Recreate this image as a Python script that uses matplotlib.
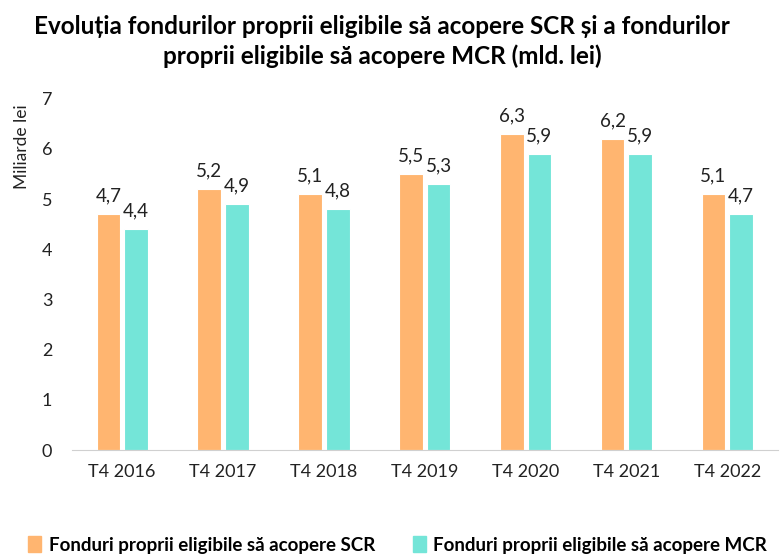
import numpy as np
import matplotlib.pyplot as plt
from matplotlib.patches import Patch

plt.rcParams['font.family'] = ['Lato', 'DejaVu Sans']

# date: fonduri proprii eligibile (mld. lei)
perioade = ['T4 2016', 'T4 2017', 'T4 2018', 'T4 2019', 'T4 2020', 'T4 2021', 'T4 2022']
scr = [4.7, 5.2, 5.1, 5.5, 6.3, 6.2, 5.1]
mcr = [4.4, 4.9, 4.8, 5.3, 5.9, 5.9, 4.7]

col_scr = '#FFB570'
col_mcr = '#74E5D8'

fig = plt.figure(figsize=(7.8, 5.55), dpi=100)
ax = fig.add_axes([0.092, 0.189, 0.905, 0.633])

x = np.arange(len(perioade))
w = 0.235
off = 0.137
b1 = ax.bar(x - off, scr, w, color=col_scr, edgecolor='white', linewidth=0.8)
b2 = ax.bar(x + off, mcr, w, color=col_mcr, edgecolor='white', linewidth=0.8)

def fmt(v):
    return f'{v:.1f}'.replace('.', ',')

for bars, vals in ((b1, scr), (b2, mcr)):
    for b, v in zip(bars, vals):
        ax.text(b.get_x() + b.get_width() / 2, v + 0.2, fmt(v),
                ha='center', va='bottom', fontsize=13.5, color='#222222')

ax.set_ylim(0, 7)
ax.set_xlim(-0.5, len(perioade) - 0.5)
ax.set_yticks(range(0, 8))
ax.set_xticks(x)
ax.set_xticklabels(perioade)
ax.tick_params(axis='both', length=0, labelsize=13, colors='#222222')
ax.tick_params(axis='x', pad=10)
ax.tick_params(axis='y', pad=14)
for s in ['top', 'right', 'left']:
    ax.spines[s].set_visible(False)
ax.spines['bottom'].set_color('#d0d0d0')

fig.text(0.028, 0.735, 'Miliarde lei', rotation=90, ha='center', va='center',
         fontsize=12.5, color='#222222')

fig.text(0.49, 0.925, 'Evoluția fondurilor proprii eligibile să acopere SCR și a fondurilor\n'
         'proprii eligibile să acopere MCR (mld. lei)',
         ha='center', va='center', fontsize=17.5, fontweight='bold', linespacing=1.3)

handles = [Patch(color=col_scr, label='Fonduri proprii eligibile să acopere SCR'),
           Patch(color=col_mcr, label='Fonduri proprii eligibile să acopere MCR')]
fig.legend(handles=handles, loc='center', bbox_to_anchor=(0.51, 0.018), ncol=2,
           frameon=False, handlelength=0.7, handleheight=0.9, handletextpad=0.4,
           columnspacing=2.0, prop={'weight': 'bold', 'size': 13.5})

fig.savefig('out.png')
